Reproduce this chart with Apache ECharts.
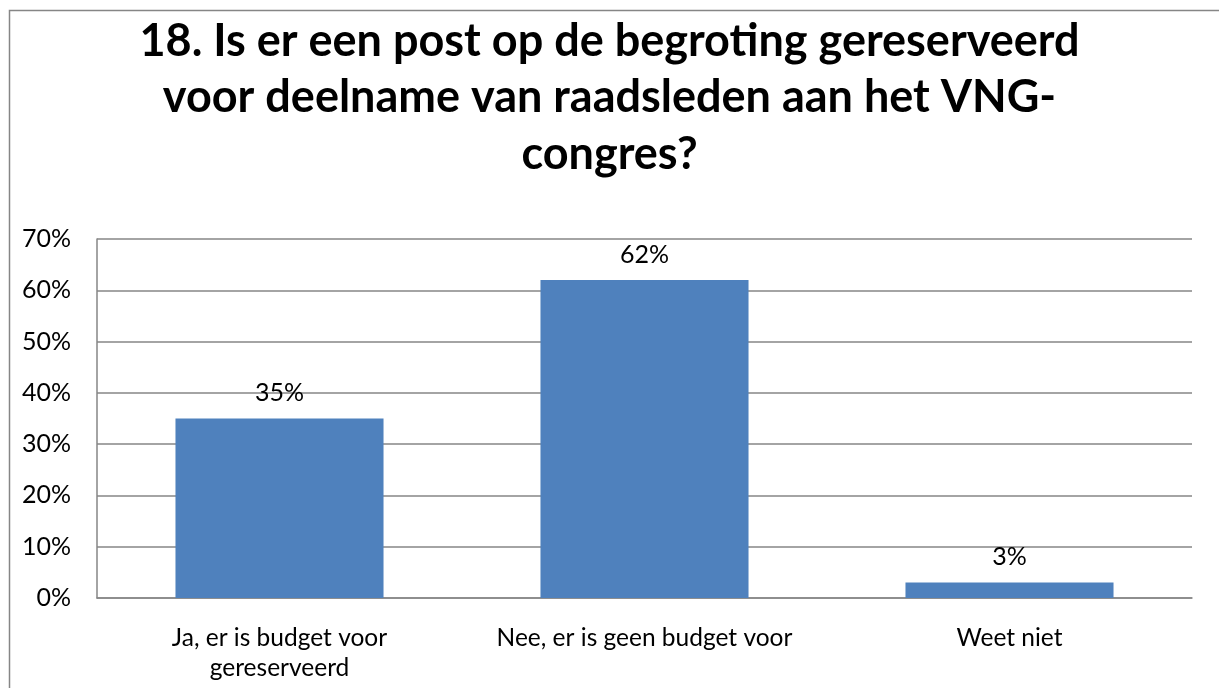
<!DOCTYPE html>
<html>
<head>
<meta charset="utf-8">
<script src="https://cdn.jsdelivr.net/npm/echarts@6/dist/echarts.min.js"></script>
<style>
  html, body { margin: 0; padding: 0; background: #fff; }
  #chart { width: 1219px; height: 688px; }
</style>
</head>
<body>
<div id="chart"></div>
<script>
  // data
  var categories = ['Ja, er is budget voor\ngereserveerd', 'Nee, er is geen budget voor', 'Weet niet']
  var values = [35, 62, 3]
  var yTicks = [0, 10, 20, 30, 40, 50, 60, 70]

  var font = 'Lato, sans-serif'
  var chart = echarts.init(document.getElementById('chart'))
  var option = {
    animation: false,
    title: {
      text: '18. Is er een post op de begroting gereserveerd\nvoor deelname van raadsleden aan het VNG-\ncongres?',
      left: 'center',
      top: 8,
      textStyle: {
        fontFamily: font,
        fontWeight: 'bold',
        fontSize: 45,
        lineHeight: 56.5,
        color: '#000',
        align: 'center'
      }
    },
    graphic: [{
      type: 'rect',
      shape: { x: 9.5, y: 10.5, width: 1300, height: 800 },
      style: { fill: 'none', stroke: '#868686', lineWidth: 1.5 },
      silent: true
    }],
    grid: {
      left: 97,
      right: 27,
      top: 239,
      bottom: 90,
      containLabel: false
    },
    xAxis: {
      type: 'category',
      data: categories,
      axisTick: { show: false },
      axisLine: { lineStyle: { color: '#868686', width: 1.5 } },
      axisLabel: {
        fontFamily: font,
        fontSize: 24.5,
        color: '#000',
        lineHeight: 30,
        margin: 25,
        interval: 0
      }
    },
    yAxis: {
      type: 'value',
      min: yTicks[0],
      max: yTicks[yTicks.length - 1],
      interval: 10,
      axisLine: { show: true, lineStyle: { color: '#868686', width: 1.5 } },
      axisTick: { show: false },
      splitLine: { lineStyle: { color: '#868686', width: 1.5 } },
      axisLabel: {
        fontFamily: font,
        fontSize: 25,
        color: '#000',
        margin: 26,
        formatter: '{value}%'
      }
    },
    series: [{
      type: 'bar',
      data: values,
      barWidth: '57%',
      itemStyle: { color: '#4F81BD' },
      label: {
        show: true,
        position: 'top',
        distance: 13,
        fontFamily: font,
        fontSize: 25,
        color: '#000',
        formatter: '{c}%'
      }
    }]
  }
  chart.setOption(option)
</script>
</body>
</html>
